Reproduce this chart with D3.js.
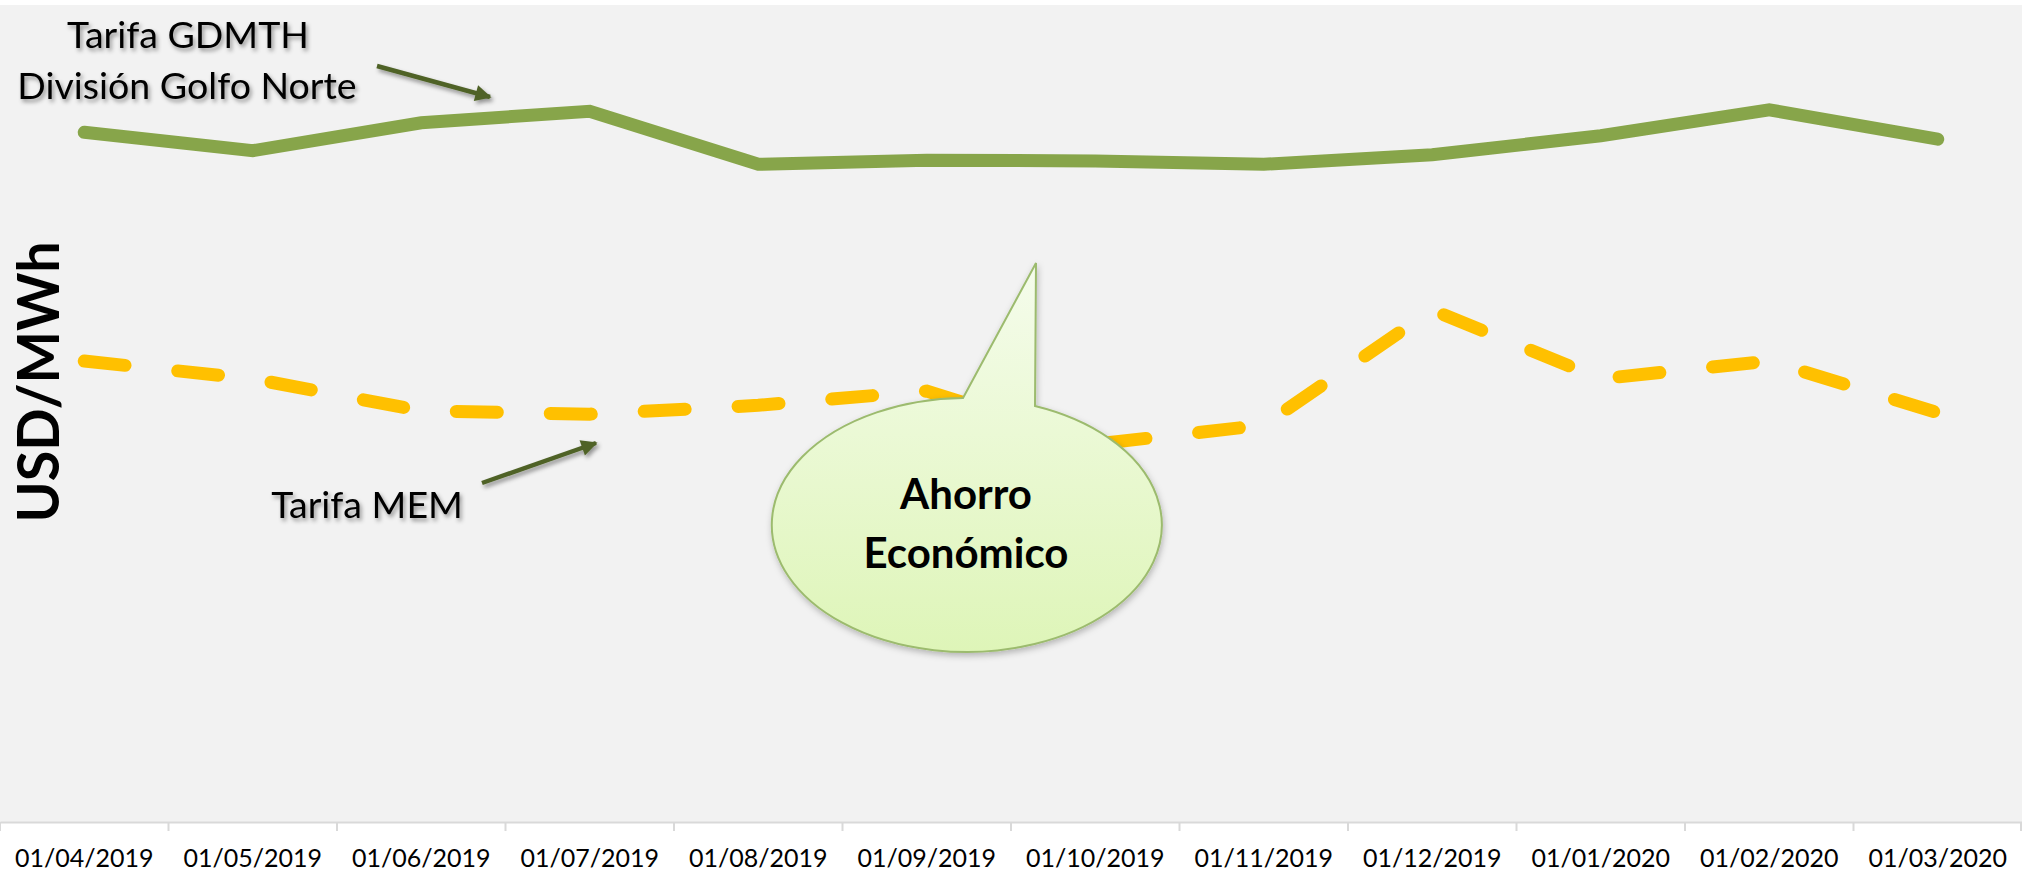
<!DOCTYPE html>
<html>
<head>
<meta charset="utf-8">
<script src="https://cdn.jsdelivr.net/npm/d3@7"></script>
<style>
  body { margin: 0; background: #ffffff; }
  text { font-family: Lato, "Open Sans", sans-serif; }
</style>
</head>
<body>
<script>
// Datos (USD/MWh aprox.)
const meses = ["01/04/2019", "01/05/2019", "01/06/2019", "01/07/2019", "01/08/2019", "01/09/2019",
  "01/10/2019", "01/11/2019", "01/12/2019", "01/01/2020", "01/02/2020", "01/03/2020"]
const tarifaGDMTH = [101.3, 98.6, 102.7, 104.4, 96.6, 97.2, 97.1, 96.6, 98.0, 100.8, 104.6, 100.3]
const tarifaMEM = [67.7, 65.1, 60.4, 59.9, 61.2, 63.3, 55.5, 58.3, 75.2, 65.1, 67.7, 60.1]

const ancho = 2022
const alto = 876
const arriba = 5
const abajo = 822

const svg = d3.select("body")
  .append("svg")
  .attr("width", ancho)
  .attr("height", alto)

const defs = svg.append("defs")

// sombra suave para textos y flechas
const sombra = defs.append("filter")
  .attr("id", "sombra")
  .attr("x", "-10%").attr("y", "-30%")
  .attr("width", "130%").attr("height", "170%")
sombra.append("feDropShadow")
  .attr("dx", 2).attr("dy", 3)
  .attr("stdDeviation", 2)
  .attr("flood-color", "#000")
  .attr("flood-opacity", 0.4)

const sombraGlobo = defs.append("filter")
  .attr("id", "sombraGlobo")
  .attr("x", "-20%").attr("y", "-20%")
  .attr("width", "140%").attr("height", "140%")
sombraGlobo.append("feDropShadow")
  .attr("dx", 1).attr("dy", 3)
  .attr("stdDeviation", 3)
  .attr("flood-color", "#000")
  .attr("flood-opacity", 0.25)

const grad = defs.append("linearGradient")
  .attr("id", "gradGlobo")
  .attr("x1", 0).attr("y1", 0).attr("x2", 0).attr("y2", 1)
grad.append("stop").attr("offset", "0%").attr("stop-color", "#f5fcec")
grad.append("stop").attr("offset", "100%").attr("stop-color", "#def5b8")

defs.append("marker")
  .attr("id", "punta")
  .attr("viewBox", "0 0 10 10")
  .attr("refX", 9).attr("refY", 5)
  .attr("markerWidth", 4.2).attr("markerHeight", 3.6)
  .attr("markerUnits", "strokeWidth")
  .attr("orient", "auto")
  .append("path")
  .attr("d", "M0,0 L10,5 L0,10 Z")
  .attr("fill", "#4f6228")

// fondo del area de grafico
svg.append("rect")
  .attr("x", 0).attr("y", arriba)
  .attr("width", ancho).attr("height", abajo - arriba)
  .attr("fill", "#f2f2f2")

const x = d3.scaleBand()
  .domain(meses)
  .range([0, ancho])

const y = d3.scaleLinear()
  .domain([0, 120])
  .range([abajo, arriba])

// eje x con marcas entre categorias
const ejeX = svg.append("g")
  .attr("transform", `translate(0, ${abajo})`)
  .call(d3.axisBottom(x).tickSize(0).tickPadding(27))
ejeX.select(".domain").attr("stroke", "#d9d9d9").attr("stroke-width", 2)
ejeX.selectAll("text")
  .attr("font-size", 25)
  .attr("font-family", "Lato, sans-serif")
  .attr("fill", "#000")

ejeX.selectAll(".separador")
  .data(d3.range(meses.length + 1))
  .join("line")
  .attr("class", "separador")
  .attr("x1", i => Math.min(i * x.step(), ancho - 1))
  .attr("x2", i => Math.min(i * x.step(), ancho - 1))
  .attr("y1", 0).attr("y2", 9)
  .attr("stroke", "#d9d9d9")
  .attr("stroke-width", 2)

const linea = d3.line()
  .x((d, i) => x(meses[i]) + x.bandwidth() / 2)
  .y(d => y(d))

svg.append("path")
  .datum(tarifaGDMTH)
  .attr("d", linea)
  .attr("fill", "none")
  .attr("stroke", "#87a54a")
  .attr("stroke-width", 13)
  .attr("stroke-linecap", "round")

svg.append("path")
  .datum(tarifaMEM)
  .attr("d", linea)
  .attr("fill", "none")
  .attr("stroke", "#ffc000")
  .attr("stroke-width", 13)
  .attr("stroke-linecap", "round")
  .attr("stroke-dasharray", "41,53")

// titulo del eje y
svg.append("text")
  .attr("transform", "translate(59, 382) rotate(-90)")
  .attr("text-anchor", "middle")
  .attr("font-size", 57)
  .attr("font-weight", "bold")
  .attr("textLength", 281)
  .attr("lengthAdjust", "spacingAndGlyphs")
  .text("USD/MWh")

// globo "Ahorro Economico"
svg.append("path")
  .attr("d", "M963,398 L1036,263 L1035,406 A195,127 0 1,1 963,398 Z")
  .attr("fill", "url(#gradGlobo)")
  .attr("stroke", "#9cbb6e")
  .attr("stroke-width", 2)
  .attr("filter", "url(#sombraGlobo)")

svg.append("text")
  .attr("x", 966).attr("y", 509)
  .attr("text-anchor", "middle")
  .attr("font-size", 42)
  .attr("font-weight", "bold")
  .text("Ahorro")
svg.append("text")
  .attr("x", 966).attr("y", 568)
  .attr("text-anchor", "middle")
  .attr("font-size", 42)
  .attr("font-weight", "bold")
  .text("Económico")

// etiquetas de series con flechas
const etiquetas = [
  { texto: "Tarifa GDMTH", x: 188, y: 48 },
  { texto: "División Golfo Norte", x: 187, y: 99 },
  { texto: "Tarifa MEM", x: 367, y: 518 }
]
svg.selectAll(".etiqueta")
  .data(etiquetas)
  .join("text")
  .attr("class", "etiqueta")
  .attr("x", d => d.x).attr("y", d => d.y)
  .attr("text-anchor", "middle")
  .attr("font-size", 37.5)
  .attr("fill", "#000")
  .attr("filter", "url(#sombra)")
  .text(d => d.texto)

const flechas = [
  { x1: 377, y1: 66, x2: 490, y2: 97 },
  { x1: 482, y1: 483, x2: 596, y2: 443 }
]
svg.selectAll(".flecha")
  .data(flechas)
  .join("line")
  .attr("class", "flecha")
  .attr("x1", d => d.x1).attr("y1", d => d.y1)
  .attr("x2", d => d.x2).attr("y2", d => d.y2)
  .attr("stroke", "#4f6228")
  .attr("stroke-width", 4.5)
  .attr("marker-end", "url(#punta)")
  .attr("filter", "url(#sombra)")
</script>
</body>
</html>
